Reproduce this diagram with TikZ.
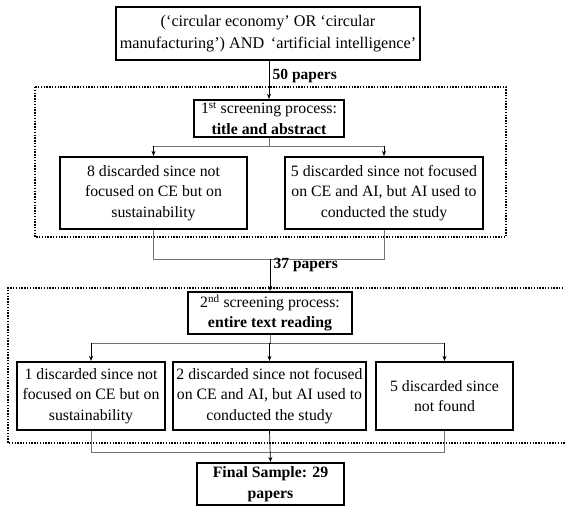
\documentclass[tikz,border=0pt]{standalone}
\usepackage{fontspec}
\setmainfont{Liberation Serif}
\usetikzlibrary{arrows.meta,positioning,calc}

\begin{document}
\begin{tikzpicture}[
    x=1pt, y=-1pt,
    font=\fontsize{15.8}{20.5}\selectfont,
    stagebox/.style={rectangle, draw, line width=2.2pt, align=center, inner sep=1pt},
    groupbox/.style={draw, line width=1.5pt, dash pattern=on 1.4pt off 1.4pt},
    arrow/.style={line width=0.7pt, -{Stealth[length=5pt,width=4pt]}},
    joint/.style={line width=0.8pt, draw=black!55},
    count/.style={font=\fontsize{15.5}{17}\selectfont\bfseries, anchor=west}
]
\useasboundingbox (0,0) rectangle (565,506);

% Search query
\node[stagebox, minimum width=304pt, minimum height=53pt,
      font=\fontsize{16.2}{22}\selectfont] (query) at (268,33.5)
    {(`circular economy' OR `circular\\manufacturing') AND \,`artificial intelligence'};

% First screening
\node[stagebox, minimum width=150pt, minimum height=37pt] (screen1) at (269,118.5)
    {1\textsuperscript{st} screening process:\\\textbf{title and abstract}};
\node[stagebox, minimum width=187pt, minimum height=72pt] (disc1a) at (153.5,193)
    {8 discarded since not\\focused on CE but on\\sustainability};
\node[stagebox, minimum width=198pt, minimum height=72pt] (disc1b) at (384,193)
    {5 discarded since not focused\\on CE and AI, but AI used to\\conducted the study};

% Group the first screening
\draw[groupbox] (35,87) rectangle (506,237);

\draw[arrow] (query.south -| screen1) -- node[count, pos=0.4] {50 papers} (screen1.north);

% Branch to discarded papers
\coordinate (b1) at (269,146);
\draw[joint] (screen1.south) -- (b1);
\draw[joint] (b1 -| disc1a) -- (b1 -| disc1b);
\draw[arrow] (b1 -| disc1a) -- (disc1a.north);
\draw[arrow] (b1 -| disc1b) -- (disc1b.north);

% Second screening
\node[stagebox, minimum width=164pt, minimum height=42pt] (screen2) at (270,313)
    {2\textsuperscript{nd} screening process:\\\textbf{entire text reading}};

% Merge into second screening
\coordinate (m1) at (270,259);
\draw[joint] (disc1a.south) -- (disc1a.south |- m1) -- (disc1b.south |- m1) -- (disc1b.south);
\draw[arrow] (m1) -- node[count, pos=0.2] {37 papers} (screen2.north);

\node[stagebox, minimum width=148pt, minimum height=68pt] (disc2a) at (91,396)
    {1 discarded since not\\focused on CE but on\\sustainability};
\node[stagebox, minimum width=193pt, minimum height=68pt] (disc2b) at (269.5,396)
    {2 discarded since not focused\\on CE and AI, but AI used to\\conducted the study};
\node[stagebox, minimum width=137pt, minimum height=68pt] (disc2c) at (444.5,396)
    {5 discarded since\\not found};

% Group the second screening (runs off the right edge)
\draw[groupbox] (580,288) -- (8,288) -- (8,443) -- (580,443);

% Branch to discarded papers
\coordinate (b2) at (270,343);
\draw[joint] (screen2.south) -- (b2);
\draw[joint] (b2 -| disc2a) -- (b2 -| disc2c);
\draw[arrow] (b2 -| disc2a) -- (disc2a.north);
\draw[arrow] (b2) -- (b2 -| disc2b) -- (disc2b.north);
\draw[arrow] (b2 -| disc2c) -- (disc2c.north);

% Final sample
\node[stagebox, minimum width=147pt, minimum height=42pt] (final) at (270.5,484)
    {\textbf{Final Sample: 29}\\\textbf{papers}};

\coordinate (m2) at (270,452);
\draw[joint] (disc2a.south) -- (disc2a.south |- m2) -- (disc2c.south |- m2) -- (disc2c.south);
\draw[arrow] (disc2b.south) -- (final.north);

\end{tikzpicture}
\end{document}
